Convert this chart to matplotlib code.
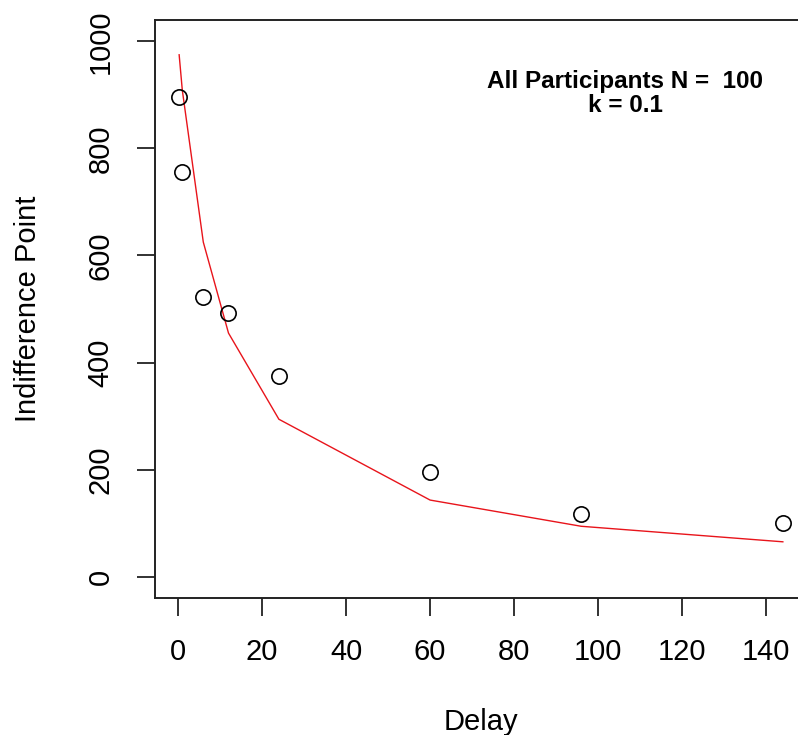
import matplotlib
matplotlib.use("Agg")
import matplotlib.pyplot as plt

plt.rcParams['font.family'] = ['Liberation Sans', 'DejaVu Sans']

# Data
delay = [0.25, 1, 6, 12, 24, 60, 96, 144]
indiff = [897, 756, 522, 493, 375, 196, 117, 101]
fit = [975, 909, 625, 455, 294, 143, 94, 65]
xticks = [0, 20, 40, 60, 80, 100, 120, 140]
yticks = [0, 200, 400, 600, 800, 1000]

W, H = 798, 735
fig = plt.figure(figsize=(W / 100, H / 100), dpi=100)
left, right, top, bottom = 155, 807, 20, 598
ax = fig.add_axes([left / W, 1 - bottom / H, (right - left) / W, (bottom - top) / H])

ax.plot(delay, indiff, linestyle='none', marker='o', markersize=11,
        markerfacecolor='none', markeredgecolor='black', markeredgewidth=1.2, zorder=3)
ax.plot(delay, fit, color='#e8141b', linewidth=1.0, zorder=2)

ax.set_xlim(-5.5, 149.75)
ax.set_ylim(-40, 1040)
ax.set_xticks(xticks)
ax.set_yticks(yticks)
ax.set_xticklabels([str(v) for v in xticks], fontsize=21)
ax.set_yticklabels([str(v) for v in yticks], fontsize=21, rotation=90, va='center')
ax.tick_params(axis='both', direction='out', length=13, width=1.3, color='#222222')
ax.tick_params(axis='x', pad=16)
ax.tick_params(axis='y', pad=16)
for s in ax.spines.values():
    s.set_linewidth(1.4)
    s.set_color('#222222')

ax.set_xlabel('Delay', fontsize=21, labelpad=30)
ax.set_ylabel('Indifference Point', fontsize=21, labelpad=32)

ax.text(106.4, 903, 'All Participants N =  100\nk = 0.1', ha='center', va='center',
        fontsize=17.5, fontweight='bold', linespacing=1.05)

fig.savefig('out.png', dpi=100)
